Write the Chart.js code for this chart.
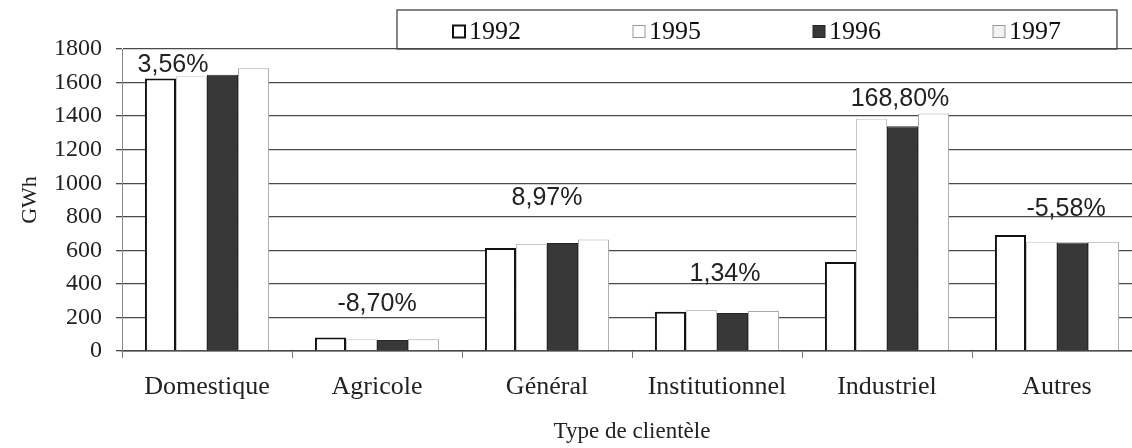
<!DOCTYPE html>
<html>
<head>
<meta charset="utf-8">
<script src="https://cdn.jsdelivr.net/npm/chart.js@4"></script>
<style>
  html, body { margin: 0; padding: 0; background: #fff; overflow: hidden; }
  #wrap { width: 1160px; height: 448px; position: relative; }
</style>
</head>
<body>
<div id="wrap"><canvas id="myChart"></canvas></div>
<script>
const categories = ['Domestique', 'Agricole', 'Général', 'Institutionnel', 'Industriel', 'Autres'];
const years = ['1992', '1995', '1996', '1997'];
const values1992 = [1624, 80, 614, 234, 530, 692];
const values1995 = [1638, 70, 638, 245, 1385, 651];
const values1996 = [1646, 66, 643, 227, 1340, 647];
const values1997 = [1686, 70, 664, 238, 1415, 651];
const growth = ['3,56%', '-8,70%', '8,97%', '1,34%', '168,80%', '-5,58%'];

const serif = '"Liberation Serif", "Times New Roman", serif';
const sans = '"Liberation Sans", Arial, sans-serif';

// growth percentages written above each group
const growthLabels = {
  id: 'growthLabels',
  afterDatasetsDraw(chart, args, opts) {
    const ctx = chart.ctx;
    const x = chart.scales.x;
    const y = chart.scales.y;
    ctx.save();
    ctx.font = '25px ' + sans;
    ctx.fillStyle = '#222';
    ctx.textAlign = 'center';
    ctx.textBaseline = 'middle';
    growth.forEach(function (txt, i) {
      ctx.fillText(txt, x.getPixelForValue(i) + opts.shift[i], y.getPixelForValue(opts.level[i]));
    });
    ctx.restore();
  }
};

// boxed legend in four equal columns
const boxLegend = {
  id: 'boxLegend',
  afterDraw(chart, args, opts) {
    const ctx = chart.ctx;
    const top = opts.top;
    const bottom = chart.chartArea.top;
    const left = opts.left;
    const right = opts.right;
    ctx.save();
    ctx.strokeStyle = '#444';
    ctx.lineWidth = 1.3;
    ctx.strokeRect(left, top, right - left, bottom - top);
    ctx.font = '26px ' + serif;
    ctx.textBaseline = 'middle';
    ctx.textAlign = 'left';
    const col = (right - left) / chart.data.datasets.length;
    const cy = (top + bottom) / 2 + 2;
    chart.data.datasets.forEach(function (ds, i) {
      const tw = ctx.measureText(ds.label).width;
      const size = 12;
      const w = size + 4 + tw;
      const sx = left + col * i + col / 2 - w / 2;
      ctx.fillStyle = opts.fills[i];
      ctx.fillRect(sx, cy - size / 2, size, size);
      ctx.strokeStyle = opts.strokes[i];
      ctx.lineWidth = ds.borderWidth;
      ctx.strokeRect(sx, cy - size / 2, size, size);
      ctx.fillStyle = '#111';
      ctx.fillText(ds.label, sx + size + 4, cy + 1);
    });
    ctx.restore();
  }
};

const ctx = document.getElementById('myChart').getContext('2d');

const chart = new Chart(ctx, {
  type: 'bar',
  data: {
    labels: categories,
    datasets: [{
      label: years[0],
      data: values1992,
      backgroundColor: '#ffffff',
      borderColor: '#111111',
      borderWidth: 2,
    },
    {
      label: years[1],
      data: values1995,
      backgroundColor: '#ffffff',
      borderColor: '#c4c4c4',
      borderWidth: 1,
    },
    {
      label: years[2],
      data: values1996,
      backgroundColor: '#383838',
      borderColor: '#262626',
      borderWidth: 1,
    },
    {
      label: years[3],
      data: values1997,
      backgroundColor: '#ffffff',
      borderColor: '#a8a8a8',
      borderWidth: 1,
    }]
  },
  options: {
    responsive: true,
    maintainAspectRatio: false,
    animation: false,
    datasets: {
      bar: { categoryPercentage: 0.73, barPercentage: 1.0 }
    },
    layout: { padding: { top: 49, right: 18, left: 0, bottom: 0 } },
    plugins: {
      legend: { display: false },
      tooltip: { enabled: false },
      growthLabels: {
        level: [1704, 280, 912, 459, 1502, 846],
        shift: [-34, 0, 0, 8, 13, 9],
      },
      boxLegend: {
        left: 397, right: 1117, top: 10,
        fills: ['#ffffff', '#ffffff', '#383838', '#f2f2f2'],
        strokes: ['#111111', '#999999', '#262626', '#999999'],
      },
    },
    scales: {
      x: {
        afterFit: function (s) { s.height = 97; },
        grid: {
          drawOnChartArea: false,
          drawTicks: true,
          tickLength: 7,
          color: '#777',
          offset: true,
        },
        border: { display: true, color: '#444', width: 1.5 },
        ticks: {
          font: { family: serif, size: 26 },
          color: '#222',
          padding: 14,
        },
        title: {
          display: true,
          text: 'Type de clientèle',
          font: { family: serif, size: 23 },
          color: '#222',
          padding: { top: 0, bottom: 2 },
        },
      },
      y: {
        min: 0,
        max: 1800,
        afterFit: function (s) { s.width = 122; },
        ticks: {
          stepSize: 200,
          font: { family: serif, size: 24 },
          color: '#222',
          padding: 14,
          callback: function (v) { return String(v); },
        },
        grid: {
          color: '#4a4a4a',
          lineWidth: 1.3,
          tickLength: 6,
        },
        border: { display: true, color: '#888', width: 1 },
        title: {
          display: true,
          text: 'GWh',
          font: { family: serif, size: 22 },
          color: '#222',
          padding: { top: 17, bottom: 0 },
        },
      },
    },
  },
  plugins: [growthLabels, boxLegend],
});
</script>
</body>
</html>
